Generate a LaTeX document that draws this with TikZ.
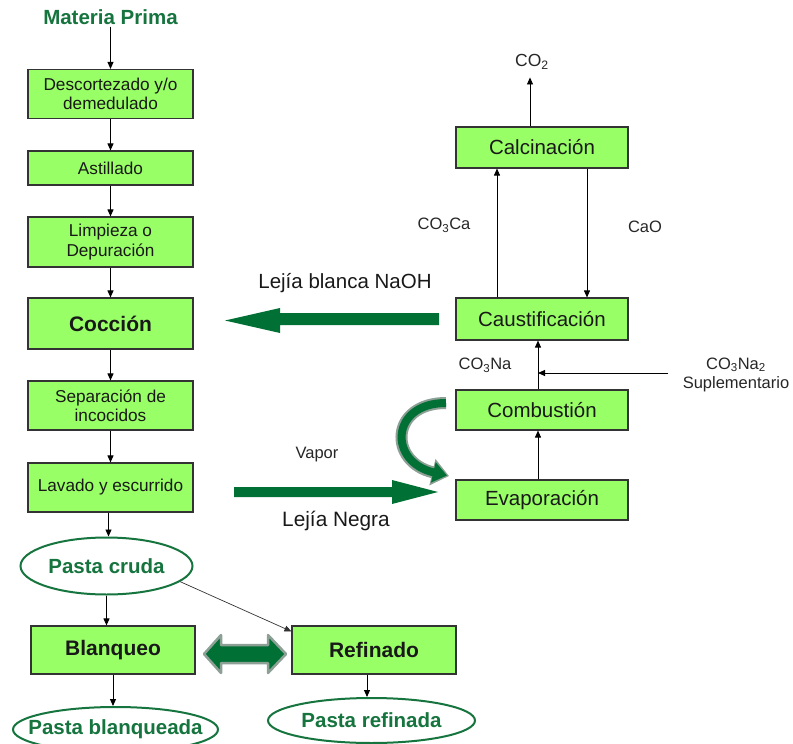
\documentclass[tikz,border=0pt]{standalone}
\usepackage{fontspec}
\setmainfont{Liberation Sans}
\usetikzlibrary{arrows.meta,shapes.geometric}
\definecolor{boxfill}{RGB}{153,255,102}
\definecolor{flowgreen}{RGB}{0,112,52}
\definecolor{titlegreen}{RGB}{22,116,62}
\definecolor{rimgray}{RGB}{140,160,150}

\begin{document}
\begin{tikzpicture}[x=1pt,y=-1pt,
  stage/.style={draw=black!80, line width=1.1pt, fill=boxfill, align=center,
    inner sep=0pt, text=black!90},
  leftstage/.style={stage, minimum width=165pt, font=\fontsize{17.2}{19.5}\selectfont},
  boldstage/.style={stage, minimum width=164pt, font=\fontsize{21}{25}\selectfont\bfseries},
  rightstage/.style={stage, minimum width=172pt, minimum height=41pt, font=\fontsize{20.5}{24}\selectfont},
  product/.style={ellipse, draw=titlegreen, line width=2pt, fill=white,
    inner xsep=-60pt, inner ysep=-20pt,
    text=titlegreen, font=\fontsize{20.5}{24}\selectfont\bfseries},
  chem/.style={text=black!85, inner sep=2pt, font=\fontsize{16.5}{19.5}\selectfont, align=center},
  flow/.style={draw=black, line width=0.9pt, -{Triangle[length=7pt,width=6pt]}},
  thin flow/.style={draw=black!80, line width=0.7pt, -{Triangle[length=7pt,width=6pt]}},
  bigarrow/.style={fill=flowgreen, draw=none}
]
\useasboundingbox (0,0) rectangle (793,744);

% ---- main pulping line ----
\node[text=titlegreen, font=\fontsize{20.5}{24}\selectfont\bfseries, inner sep=2pt] (mp) at (110.5,17) {Materia Prima};
\node[leftstage, minimum height=49pt] (desc) at (110.5,94) {Descortezado y/o\\demedulado};
\node[leftstage, minimum height=34pt] (asti) at (110.5,168) {Astillado};
\node[leftstage, minimum height=50pt] (limp) at (110.5,242) {Limpieza o\\Depuración};
\node[leftstage, minimum height=51pt, font=\fontsize{21}{25}\selectfont\bfseries] (cocc) at (110.5,323.5) {Cocción};
\node[leftstage, minimum height=49pt] (sepa) at (110.5,405.5) {Separación de\\incocidos};
\node[leftstage, minimum height=49pt] (lava) at (110.5,487.5) {Lavado y escurrido};
\node[product, minimum width=172pt, minimum height=57pt] (cruda) at (106.5,566) {Pasta cruda};
\node[boldstage, minimum height=48pt] (blanq) at (113,650) {Blanqueo};
\node[boldstage, minimum height=48pt] (refin) at (374,650) {Refinado};
\node[product, minimum width=205pt, minimum height=45pt] (pblanq) at (115.5,729.5) {Pasta blanqueada};
\node[product, minimum width=207pt, minimum height=45pt] (pref) at (371.5,720.5) {Pasta refinada};

\draw[flow] (mp.south -| desc.north) -- (desc);
\draw[flow] (desc) -- (asti);
\draw[flow] (asti) -- (limp);
\draw[flow] (limp) -- (cocc);
\draw[flow] (cocc) -- (sepa);
\draw[flow] (sepa) -- (lava);
\draw[flow] ([xshift=-2pt]lava.south) -- ([xshift=2pt]cruda.north);
\draw[flow] (cruda.south) -- (cruda.south |- blanq.north);
\draw[thin flow] (cruda.-12) -- ([yshift=-6pt]refin.north west);
\draw[flow] (blanq.south) -- (blanq.south |- pblanq.north);
\draw[flow] ([xshift=-7pt]refin.south) -- ([xshift=-7pt]refin.south |- pref.north);

% ---- chemical recovery cycle ----
\node[rightstage] (calc) at (542,147.5) {Calcinación};
\node[rightstage, minimum height=42pt] (caus) at (542,319) {Caustificación};
\node[rightstage, minimum height=40pt] (comb) at (542,410) {Combustión};
\node[rightstage, minimum height=40pt] (evap) at (542,500) {Evaporación};

\node[chem, inner sep=0pt, font=\fontsize{17.5}{20}\selectfont] (co2) at (532,62) {CO\textsubscript{2}};
\node[chem] (co3ca) at (444,225) {CO\textsubscript{3}Ca};
\node[chem] (cao) at (645,227) {CaO};
\node[chem] (co3na) at (485,365) {CO\textsubscript{3}Na};
\node[chem, inner sep=0pt] (supl) at (736,375) {CO\textsubscript{3}Na\textsubscript{2}\\Suplementario};
\coordinate (suppin) at (668,373);
\coordinate (spine) at ([xshift=-4pt]comb.north);

\draw[flow] ([xshift=-12pt]calc.north) -- ++(0,-49);
\draw[flow] ([xshift=-45pt]caus.north) -- ([xshift=-45pt]calc.south);
\draw[flow] ([xshift=45pt]calc.south) -- ([xshift=45pt]caus.north);
\draw[flow] ([xshift=-4pt]evap.north) -- ([xshift=-4pt]comb.south);
\draw[flow] (spine) -- ([xshift=-4pt]caus.south);
\draw[flow] (suppin) -- (suppin -| spine);

% ---- white liquor returned to cooking ----
\node[text=black!90, font=\fontsize{20.5}{24}\selectfont, inner sep=0pt] (blanca) at (345,283) {Lejía blanca NaOH};
\fill[bigarrow] (439,313) -- (280,313) -- (280,308) -- (225,320.5) -- (280,333) -- (280,325) -- (439,325) -- cycle;

% ---- black liquor sent to evaporation ----
\node[chem] (vapor) at (317,455) {Vapor};
\node[text=black!90, font=\fontsize{20.8}{24}\selectfont, inner sep=0pt] (negra) at (336,521) {Lejía Negra};
\fill[bigarrow] (234,487) -- (392,487) -- (392,480) -- (438,492) -- (392,504) -- (392,497) -- (234,497) -- cycle;

% ---- curved arrow from combustion back to evaporation ----
\draw[rimgray, line width=12pt, -{Triangle[length=17pt,width=26pt]}]
  (446,403) .. controls (390,403) and (388,462) .. (449,476);
\draw[flowgreen, line width=8pt, -{Triangle[length=14pt,width=20pt]}]
  (446,403) .. controls (390,403) and (388,462) .. (447,475.5);

% ---- exchange between bleaching and refining ----
\filldraw[fill=flowgreen, draw=rimgray, line width=2.5pt, line join=round]
  (204,654) -- (221,635) -- (221,645) -- (268,645) -- (268,635) -- (286,654)
  -- (268,673) -- (268,663) -- (221,663) -- (221,673) -- cycle;
\end{tikzpicture}
\end{document}
